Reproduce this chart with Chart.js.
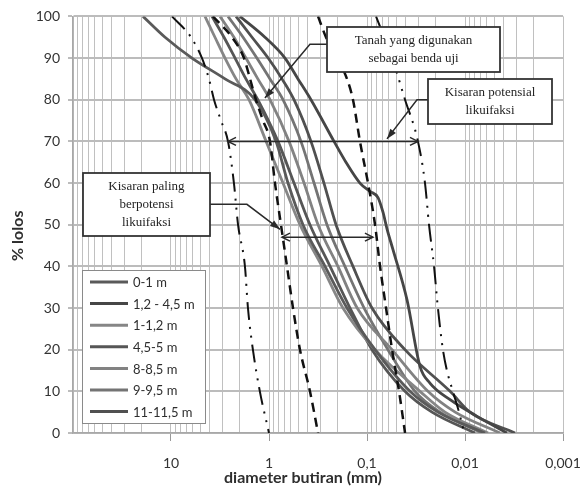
<!DOCTYPE html>
<html>
<head>
<meta charset="utf-8">
<script src="https://cdn.jsdelivr.net/npm/chart.js@4.4.1/dist/chart.umd.min.js"></script>
<style>
  html, body { margin: 0; padding: 0; background: #fff; }
  #wrap { width: 580px; height: 501px; }
</style>
</head>
<body>
<div id="wrap"><canvas id="grain" width="580" height="501"></canvas></div>
<script>
// % passing levels
const levels = [100, 95, 90, 85, 80, 70, 60, 50, 40, 30, 20, 10, 5, 0];
const bumpLevels = [100, 95, 90, 85, 80, 70, 65, 60, 58, 56.5, 53, 49, 44, 32, 16, 12, 8, 4, 0];

// grain diameter (mm) of each depth sample at those levels
const d_0_1    = [19.3, 11.5, 6.11, 2.81, 1.39, 0.848, 0.640, 0.450, 0.268, 0.160, 0.0829, 0.0364, 0.0189, 0.00625];
const d_12_45  = [1.98, 1.10, 0.687, 0.506, 0.373, 0.217, 0.164, 0.118, 0.0932, 0.0772, 0.0687, 0.0625, 0.0543, 0.0391, 0.0288, 0.0228, 0.0142, 0.00754, 0.00373];
const d_1_12   = [4.50, 3.56, 2.81, 2.17, 1.60, 1.07, 0.720, 0.483, 0.288, 0.176, 0.0829, 0.0288, 0.0160, 0.00582];
const d_45_5   = [3.82, 2.88, 2.22, 1.72, 1.30, 0.810, 0.556, 0.382, 0.238, 0.149, 0.0889, 0.0410, 0.0217, 0.00791];
const d_8_85   = [3.16, 2.28, 1.72, 1.30, 0.977, 0.625, 0.439, 0.316, 0.198, 0.126, 0.0556, 0.0239, 0.0126, 0.00439];
const d_9_95   = [2.62, 1.84, 1.33, 0.977, 0.720, 0.472, 0.347, 0.256, 0.168, 0.107, 0.0611, 0.0324, 0.0180, 0.00671];
const d_11_115 = [2.17, 1.49, 1.02, 0.737, 0.556, 0.373, 0.275, 0.207, 0.139, 0.0889, 0.0410, 0.0142, 0.00889, 0.00309];

const sampleNames = ['0-1 m', '1,2 - 4,5 m', '1-1,2 m', '4,5-5 m', '8-8,5 m', '9-9,5 m', '11-11,5 m'];
const sampleDiam = [d_0_1, d_12_45, d_1_12, d_45_5, d_8_85, d_9_95, d_11_115];
const samplePass = [levels, bumpLevels, levels, levels, levels, levels, levels];

// liquefaction boundary curves
const outerLeftPct  = [100, 95, 90, 85, 80, 75, 70, 60, 50, 40, 30, 20, 10, 0];
const outerLeftD    = [9.77, 6.25, 4.83, 4.10, 3.64, 3.09, 2.62, 2.28, 2.07, 1.76, 1.64, 1.46, 1.24, 1.00];
const innerLeftPct  = [100, 95, 90, 85, 80, 75, 70, 60, 50, 40, 30, 20, 10, 0];
const innerLeftD    = [3.73, 2.39, 1.80, 1.56, 1.36, 1.15, 0.977, 0.869, 0.755, 0.655, 0.569, 0.483, 0.382, 0.316];
const innerRightPct = [100, 95, 85, 80, 70, 60, 50, 40, 30, 20, 10, 0];
const innerRightD   = [0.316, 0.262, 0.160, 0.139, 0.118, 0.0977, 0.0828, 0.0736, 0.0639, 0.0555, 0.0471, 0.0409];
const outerRightPct = [100, 90, 80, 70, 60, 50, 40, 30, 20, 15, 10, 5, 0];
const outerRightD   = [0.0809, 0.0555, 0.0409, 0.0302, 0.0256, 0.0233, 0.0207, 0.0189, 0.0168, 0.0153, 0.0133, 0.0115, 0.0102];

// range arrows
const wideRange = [2.62, 0.0302], wideLevel = 70;
const narrowRange = [0.737, 0.087], narrowLevel = 47;

// x tick labels
const decades = [0.001, 0.01, 0.1, 1, 10, 100];
const decadeLabels = ['0,001', '0,01', '0,1', '1', '10', ''];

const sampleColors = ['#5a5a5a', '#464646', '#868686', '#565656', '#828282', '#747474', '#505050'];

const toPts = (d, p) => d.map((v, i) => ({x: v, y: p[i]}));

const tickValues = [];
decades.slice(0, 5).forEach(dec => {
  for (let m = 1; m <= 9; m++) tickValues.push(Number((m * dec).toPrecision(3)));
});
tickValues.push(100);

const isDecade = v => Math.abs(Math.log10(v) - Math.round(Math.log10(v))) < 1e-9;

const datasets = sampleNames.map((name, i) => ({
  label: name,
  data: toPts(sampleDiam[i], samplePass[i]),
  borderColor: sampleColors[i],
  borderWidth: 2.8,
  showLine: true,
  pointRadius: 0,
  cubicInterpolationMode: 'monotone',
  order: 2,
  isSample: true
}));

const dashDot = [18, 7, 2, 7, 2, 7];
const dashed = [9, 6];
[[outerLeftD, outerLeftPct, dashDot, 2], [innerLeftD, innerLeftPct, dashed, 2.5],
 [innerRightD, innerRightPct, dashed, 2.5], [outerRightD, outerRightPct, dashDot, 2]].forEach(([d, p, dash, w]) => {
  datasets.push({
    label: 'batas',
    data: toPts(d, p),
    borderColor: '#111',
    borderWidth: w,
    borderDash: dash,
    showLine: true,
    pointRadius: 0,
    cubicInterpolationMode: 'monotone',
    order: 1
  });
});

// annotation boxes (centre in data units, size in px) and leader lines
const notes = [
  {lines: ['Tanah yang digunakan', 'sebagai benda uji'], d: 0.0335, p: 92.0, w: 173, h: 45},
  {lines: ['Kisaran potensial', 'likuifaksi'], d: 0.00556, p: 79.6, w: 124, h: 45},
  {lines: ['Kisaran paling', 'berpotensi', 'likuifaksi'], d: 17.8, p: 54.8, w: 127, h: 63}
];
const leaders = [
  [[0.256, 93.3], [0.382, 93.3], [1.10, 80.4]],
  [[0.0239, 80.0], [0.0309, 80.0], [0.0625, 70.6]],
  [[4.0, 54.9], [1.68, 54.9], [0.772, 48.9]]
];

function filledHead(ctx, from, to, len, wid) {
  const ang = Math.atan2(to[1] - from[1], to[0] - from[0]);
  const bx = to[0] - len * Math.cos(ang), by = to[1] - len * Math.sin(ang);
  ctx.beginPath();
  ctx.moveTo(to[0], to[1]);
  ctx.lineTo(bx + wid / 2 * Math.sin(ang), by - wid / 2 * Math.cos(ang));
  ctx.lineTo(bx - wid / 2 * Math.sin(ang), by + wid / 2 * Math.cos(ang));
  ctx.closePath();
  ctx.fill();
}
function openHead(ctx, tip, dir, len, wid) {
  ctx.beginPath();
  ctx.moveTo(tip[0] - dir * len, tip[1] - wid);
  ctx.lineTo(tip[0], tip[1]);
  ctx.lineTo(tip[0] - dir * len, tip[1] + wid);
  ctx.stroke();
}

const overlay = {
  id: 'overlay',
  afterDatasetsDraw(chart) {
    const {ctx, chartArea: a, scales: {x, y}} = chart;
    const P = (d, p) => [x.getPixelForValue(d), y.getPixelForValue(p)];
    ctx.save();
    ctx.strokeStyle = '#2a2a2a';
    ctx.fillStyle = '#2a2a2a';
    ctx.lineWidth = 1.5;

    [[wideRange, wideLevel], [narrowRange, narrowLevel]].forEach(([r, lv]) => {
      const p1 = P(r[0], lv), p2 = P(r[1], lv);
      ctx.beginPath(); ctx.moveTo(p1[0], p1[1]); ctx.lineTo(p2[0], p2[1]); ctx.stroke();
      openHead(ctx, p1, -1, 8, 4);
      openHead(ctx, p2, 1, 8, 4);
    });

    leaders.forEach(path => {
      const pts = path.map(([d, p]) => P(d, p));
      ctx.beginPath();
      pts.forEach(([px, py], i) => i ? ctx.lineTo(px, py) : ctx.moveTo(px, py));
      ctx.stroke();
      filledHead(ctx, pts[pts.length - 2], pts[pts.length - 1], 10, 7);
    });

    ctx.font = '13px "Liberation Serif"';
    ctx.textAlign = 'center';
    ctx.textBaseline = 'middle';
    notes.forEach(n => {
      const [cx, cy] = P(n.d, n.p);
      const bx = Math.round(cx - n.w / 2), by = Math.round(cy - n.h / 2);
      ctx.fillStyle = '#fff';
      ctx.fillRect(bx, by, n.w, n.h);
      ctx.strokeStyle = '#333';
      ctx.lineWidth = 1.8;
      ctx.strokeRect(bx, by, n.w, n.h);
      ctx.fillStyle = '#1e1e1e';
      const lh = 18, y0 = cy - (n.lines.length - 1) * lh / 2;
      n.lines.forEach((t, i) => ctx.fillText(t, cx, y0 + i * lh));
    });

    // legend box
    const samples = chart.data.datasets.filter(ds => ds.isSample);
    const lw = 123, lh = 153, lx = a.left + 9, ly = a.bottom - 10 - lh;
    ctx.fillStyle = '#fff';
    ctx.fillRect(lx, ly, lw, lh);
    ctx.strokeStyle = '#8a8a8a';
    ctx.lineWidth = 1;
    ctx.strokeRect(lx + 0.5, ly + 0.5, lw, lh);
    ctx.font = '13px Lato';
    ctx.textAlign = 'left';
    samples.forEach((ds, i) => {
      const yy = ly + 12 + i * 21.6;
      ctx.strokeStyle = ds.borderColor;
      ctx.lineWidth = 3;
      ctx.beginPath(); ctx.moveTo(lx + 8, yy); ctx.lineTo(lx + 46, yy); ctx.stroke();
      ctx.fillStyle = '#2e2e2e';
      ctx.fillText(ds.label, lx + 51, yy + 1);
    });
    ctx.restore();
  },
  afterDraw(chart) {
    const {ctx, chartArea: a} = chart;
    ctx.save();
    ctx.font = 'bold 16px Lato';
    ctx.fillStyle = '#2e2e2e';
    ctx.textAlign = 'center';
    ctx.textBaseline = 'middle';
    ctx.fillText('diameter butiran (mm)', (a.left + a.right) / 2 - 15, a.bottom + 45);
    ctx.translate(18, (a.top + a.bottom) / 2 + 11);
    ctx.rotate(-Math.PI / 2);
    ctx.fillText('% lolos', 0, 0);
    ctx.restore();
  }
};

Chart.defaults.font.family = 'Lato';

new Chart(document.getElementById('grain'), {
  type: 'scatter',
  data: {datasets},
  options: {
    responsive: false,
    animation: false,
    layout: {padding: {top: 14, right: 17, left: 0, bottom: 0}},
    plugins: {legend: {display: false}, tooltip: {enabled: false}},
    scales: {
      x: {
        type: 'logarithmic',
        reverse: true,
        min: 0.001,
        max: 100,
        afterBuildTicks: s => { s.ticks = tickValues.map(v => ({value: v})); },
        afterFit: s => { s.height = 68; },
        grid: {
          color: '#c0c0c0',
          lineWidth: 1,
          tickLength: 8,
          tickColor: c => (c.tick && isDecade(c.tick.value) && c.tick.value < 100) ? '#999' : 'rgba(0,0,0,0)'
        },
        border: {color: '#a8a8a8', width: 1.5},
        ticks: {
          autoSkip: false,
          maxRotation: 0,
          padding: 14,
          color: '#333',
          font: {size: 14},
          callback: v => {
            const i = decades.findIndex(dv => Math.abs(dv - v) < dv * 1e-6);
            return i >= 0 ? decadeLabels[i] : '';
          }
        }
      },
      y: {
        min: 0,
        max: 100,
        afterFit: s => { s.width = 73; },
        grid: {color: '#bcbcbc', lineWidth: 2, tickLength: 5},
        border: {color: '#a8a8a8', width: 1.5},
        ticks: {stepSize: 10, padding: 8, color: '#333', font: {size: 14}}
      }
    }
  },
  plugins: [overlay]
});
</script>
</body>
</html>
